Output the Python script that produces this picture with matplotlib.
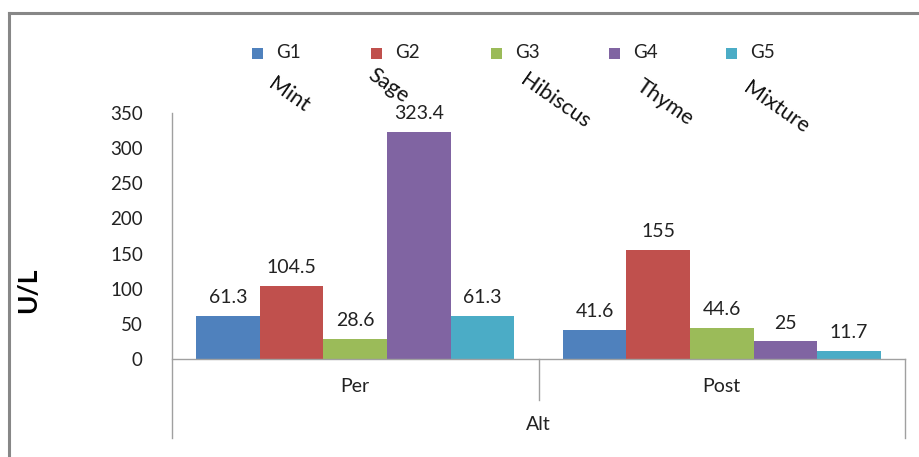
import matplotlib
matplotlib.use("Agg")
import matplotlib.pyplot as plt
import numpy as np
from matplotlib.patches import Rectangle
from matplotlib.lines import Line2D

plt.rcParams['font.family'] = ['Lato', 'DejaVu Sans']

# Data
periods = ["Per", "Post"]
groups = ["G1", "G2", "G3", "G4", "G5"]
herbs = ["Mint", "Sage", "Hibiscus", "Thyme", "Mixture"]
values = {
    "G1": [61.3, 41.6],
    "G2": [104.5, 155],
    "G3": [28.6, 44.6],
    "G4": [323.4, 25],
    "G5": [61.3, 11.7],
}
value_labels = {
    "G1": ["61.3", "41.6"],
    "G2": ["104.5", "155"],
    "G3": ["28.6", "44.6"],
    "G4": ["323.4", "25"],
    "G5": ["61.3", "11.7"],
}
yticks = [0, 50, 100, 150, 200, 250, 300, 350]
colors = ["#4F81BD", "#C0504D", "#9BBB59", "#8064A2", "#4BACC6"]

W, H = 920, 457
fig = plt.figure(figsize=(W / 100, H / 100), dpi=100)

def fx(px):
    return px / W

def fy(py):
    return 1 - py / H

ax = fig.add_axes([fx(172), fy(359), fx(905) - fx(172), fy(113) - fy(359)])

x = np.arange(len(periods))
width = 0.1736
for i, g in enumerate(groups):
    pos = x + (i - 2) * width
    bars = ax.bar(pos, values[g], width, color=colors[i], linewidth=0)
    for b, lab in zip(bars, value_labels[g]):
        ax.annotate(lab, (b.get_x() + b.get_width() / 2, b.get_height()),
                    xytext=(0, 7), textcoords="offset points",
                    ha="center", va="bottom", fontsize=14, color="#222222")

ax.set_xlim(-0.5, 1.5)
ax.set_ylim(0, 350)
ax.set_yticks(yticks)
ax.set_yticklabels([str(t) for t in yticks], fontsize=13.5, color="#222222")
ax.tick_params(axis="y", length=0, pad=21)
ax.set_xticks([])
for s in ["top", "right", "left"]:
    ax.spines[s].set_visible(False)
ax.spines["bottom"].set_color("#A0A0A0")
ax.spines["bottom"].set_linewidth(1)

# axis and category divider lines
axis_col = "#A0A0A0"
fig.add_artist(Line2D([fx(172), fx(172)], [fy(113), fy(438)], color=axis_col, lw=1))
fig.add_artist(Line2D([fx(905), fx(905)], [fy(359), fy(438)], color=axis_col, lw=1))
fig.add_artist(Line2D([fx(538.5), fx(538.5)], [fy(359), fy(400)], color=axis_col, lw=1))

for i, p in enumerate(periods):
    fig.text(fx(172 + 366.5 * (i + 0.5)), fy(386), p, ha="center", va="center",
             fontsize=14, color="#222222")
fig.text(fx(538.5), fy(425), "Alt", ha="center", va="center", fontsize=14, color="#222222")

ax.set_ylabel("U/L", fontsize=19, fontweight="bold", labelpad=0)
ax.yaxis.set_label_coords(fx(40 - 172) * W / (905 - 172), 0.28)

# legend
leg_x = [252, 371, 491, 609, 726]
for i, g in enumerate(groups):
    fig.add_artist(Rectangle((fx(leg_x[i]), fy(59)), fx(11), 11 / H,
                             color=colors[i], lw=0))
    fig.text(fx(leg_x[i] + 24), fy(53), g, ha="left", va="center",
             fontsize=13.5, color="#222222")

# rotated herb names
herb_pos = [(276, 74), (376, 65), (528, 70), (644, 76), (751, 78)]
for name, (px, py) in zip(herbs, herb_pos):
    fig.text(fx(px), fy(py), name, ha="left", va="top", rotation=-35,
             rotation_mode="anchor", fontsize=15.5, color="#111111")

# outer chart frame
frame_col = "#878787"
fig.add_artist(Line2D([fx(9), fx(9)], [fy(13), 0], color=frame_col, lw=2.2))
fig.add_artist(Line2D([fx(9), 1], [fy(13), fy(13)], color=frame_col, lw=2.2))

fig.savefig("out.png", dpi=100)
